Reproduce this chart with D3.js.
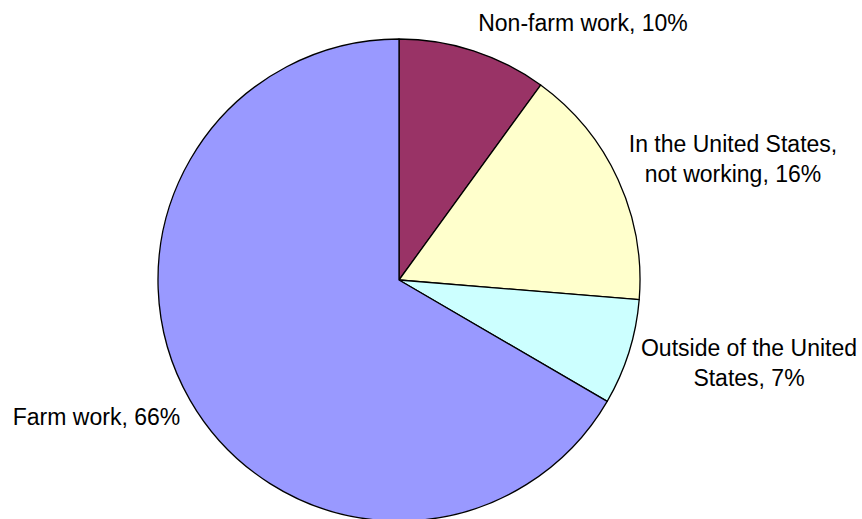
<!DOCTYPE html>
<html>
<head>
<meta charset="utf-8">
<script src="https://cdn.jsdelivr.net/npm/d3@7"></script>
<style>
  body { margin: 0; background: #fff; }
  text { font-family: "Liberation Sans", Arial, sans-serif; font-size: 23px; fill: #000; }
</style>
</head>
<body>
<script>
// slice shares, clockwise from 12 o'clock
var categories = ["Non-farm work", "In the United States, not working", "Outside of the United States", "Farm work"];
var shares = [10.0, 16.3, 7.1, 66.6];
var pctLabels = ["10%", "16%", "7%", "66%"];
var colors = ["#993366", "#FFFFCC", "#CCFFFF", "#9999FF"];
// label lines as they wrap in the chart
var labelLines = [
    ["Non-farm work, 10%"],
    ["In the United States,", "not working, 16%"],
    ["Outside of the United", "States, 7%"],
    ["Farm work, 66%"]
];

var width = 862, height = 519;
var cx = 399, cy = 280, radius = 241;

var svg = d3.select("body").append("svg")
    .attr("width", width)
    .attr("height", height);

var pie = d3.pie().sort(null).value(function(d) { return d; });
var arc = d3.arc().innerRadius(0).outerRadius(radius);

var g = svg.append("g").attr("transform", "translate(" + cx + "," + cy + ")");

var arcs = pie(shares);

g.selectAll("path")
    .data(arcs)
    .enter().append("path")
    .attr("d", arc)
    .attr("fill", function(d, i) { return colors[i]; })
    .attr("stroke", "#000")
    .attr("stroke-width", 1.3)
    .attr("stroke-linejoin", "round");

//__labels__// excel-style placement: label block centre relative to pie centre
var labelPos = [[184, -249], [334, -128], [350, 76], [-302.5, 145]];
var lineH = 29.5;

arcs.forEach(function(d, i) {
    var x = labelPos[i][0], y = labelPos[i][1];
    var lines = labelLines[i];
    var t = g.append("text")
        .attr("text-anchor", "middle")
        .attr("x", x)
        .attr("y", y);
    lines.forEach(function(l, j) {
        t.append("tspan")
            .attr("x", x)
            .attr("dy", j == 0 ? 0 : lineH)
            .text(l);
    });
});
</script>
</body>
</html>
